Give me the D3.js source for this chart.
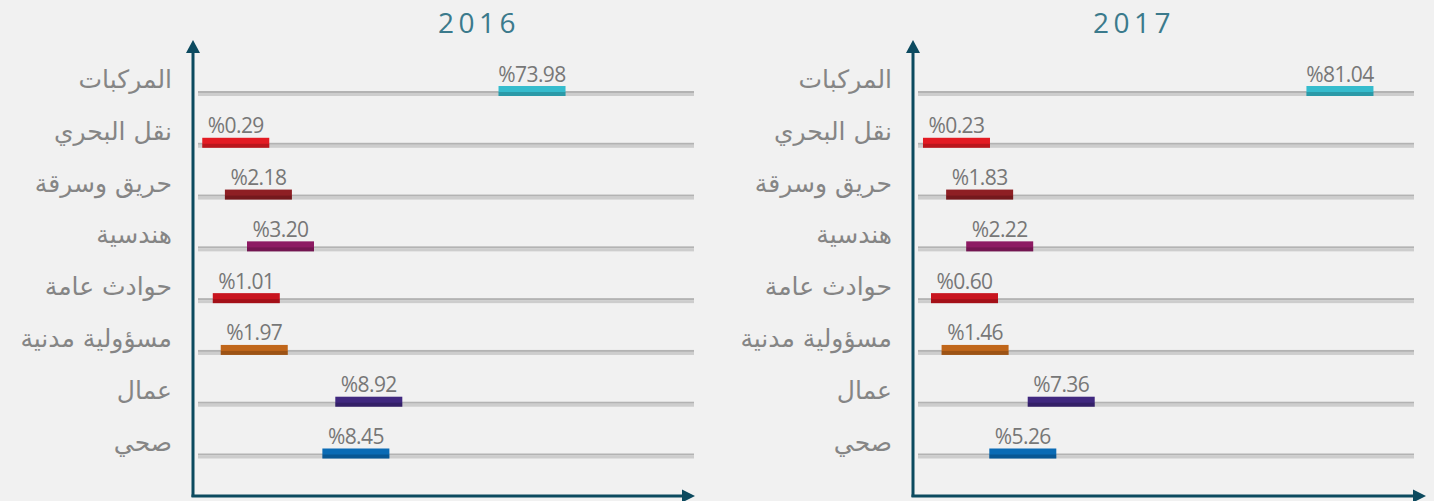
<!DOCTYPE html>
<html>
<head>
<meta charset="utf-8">
<script src="https://cdn.jsdelivr.net/npm/d3@7"></script>
<style>
  body { margin: 0; background: #f1f1f1; }
  svg { display: block; }
</style>
</head>
<body>
<svg id="chart"></svg>
<script>
const categories = ['المركبات', 'نقل البحري', 'حريق وسرقة', 'هندسية', 'حوادث عامة', 'مسؤولية مدنية', 'عمال', 'صحي'];
const years = ['2016', '2017'];
const values2016 = [73.98, 0.29, 2.18, 3.20, 1.01, 1.97, 8.92, 8.45];
const values2017 = [81.04, 0.23, 1.83, 2.22, 0.60, 1.46, 7.36, 5.26];

const barColors = ['#35bccd', '#e31b23', '#8e1f24', '#8d1a63', '#c8141e', '#c0661a', '#40287f', '#0a6bb5'];

const width = 1434, height = 501;
const axisColor = '#0c4a5f';

// each panel has its own hand-tuned (non linear) scale, like the original
const panels = [
  { year: years[0], values: values2016, x0: 193, titleX: 477, arrowEnd: 502,
    domain: [0, 1, 2, 3.2, 8.4, 9, 100], range: [5, 19.7, 28, 54, 128, 144.5, 370] },
  { year: years[1], values: values2017, x0: 913, titleX: 1132, arrowEnd: 513,
    domain: [0, 0.6, 1.9, 2.25, 5.5, 7.4, 100], range: [5, 18, 34, 55, 78, 115.5, 465] }
];

const svg = d3.select('#chart')
  .attr('width', width)
  .attr('height', height);

svg.append('rect')
  .attr('width', width)
  .attr('height', height)
  .attr('fill', '#f1f1f1');

let y = d3.scalePoint()
  .domain(categories)
  .range([91, 453.5]);

const barW = 67, barH = 10, lineW = 496;

panels.forEach(p => {
  let x = d3.scaleLinear().domain(p.domain).range(p.range);
  let g = svg.append('g').attr('transform', 'translate(' + p.x0 + ',0)');

  // title
  svg.append('text')
    .attr('x', p.titleX + 2)
    .attr('y', 33)
    .attr('text-anchor', 'middle')
    .attr('fill', '#3b7a8c')
    .style('font-family', '"Open Sans", sans-serif')
    .style('font-size', '28px')
    .style('letter-spacing', '4.5px')
    .text(p.year);

  // grey rows
  let rows = g.selectAll('.row')
    .data(categories)
    .enter().append('g')
    .attr('class', 'row');

  rows.append('rect')
    .attr('x', 5)
    .attr('y', d => y(d))
    .attr('width', lineW)
    .attr('height', 2)
    .attr('fill', '#b3b3b3');
  rows.append('rect')
    .attr('x', 5)
    .attr('y', d => y(d) + 2)
    .attr('width', lineW)
    .attr('height', 3)
    .attr('fill', '#cdcdcd');

  // category labels
  rows.append('text')
    .attr('x', -21)
    .attr('y', d => y(d) - 3)
    .attr('text-anchor', 'end')
    .attr('fill', '#858585')
    .style('font-family', '"DejaVu Sans", sans-serif')
    .style('font-size', '25px')
    .text(d => d);

  // bars
  let bars = g.selectAll('.bar')
    .data(p.values)
    .enter().append('g')
    .attr('class', 'bar');

  bars.append('rect')
    .attr('x', d => x(d))
    .attr('y', (d, i) => y(categories[i]) - barH / 2)
    .attr('width', barW)
    .attr('height', barH)
    .attr('fill', (d, i) => barColors[i]);
  bars.append('rect')
    .attr('x', d => x(d))
    .attr('y', (d, i) => y(categories[i]) + 1)
    .attr('width', barW)
    .attr('height', 4)
    .attr('fill', '#000')
    .attr('opacity', 0.18);

  bars.append('text')
    .attr('x', d => x(d) + barW / 2)
    .attr('y', (d, i) => y(categories[i]) - 9.5)
    .attr('text-anchor', 'middle')
    .attr('fill', '#777')
    .style('font-family', '"Open Sans", sans-serif')
    .style('font-size', '21px')
    .style('letter-spacing', '-0.6px')
    .text(d => '%' + d.toFixed(2));

  // axes with arrows
  g.append('line')
    .attr('x1', 0).attr('y1', 497)
    .attr('x2', 0).attr('y2', 50)
    .attr('stroke', axisColor)
    .attr('stroke-width', 3);
  g.append('path')
    .attr('d', 'M0,40 L-7,53 L7,53 Z')
    .attr('fill', axisColor);
  g.append('line')
    .attr('x1', -1.5).attr('y1', 496)
    .attr('x2', p.arrowEnd - 10).attr('y2', 496)
    .attr('stroke', axisColor)
    .attr('stroke-width', 3);
  g.append('path')
    .attr('d', 'M' + p.arrowEnd + ',496 L' + (p.arrowEnd - 13) + ',489.5 L' + (p.arrowEnd - 13) + ',502.5 Z')
    .attr('fill', axisColor);
});
</script>
</body>
</html>
